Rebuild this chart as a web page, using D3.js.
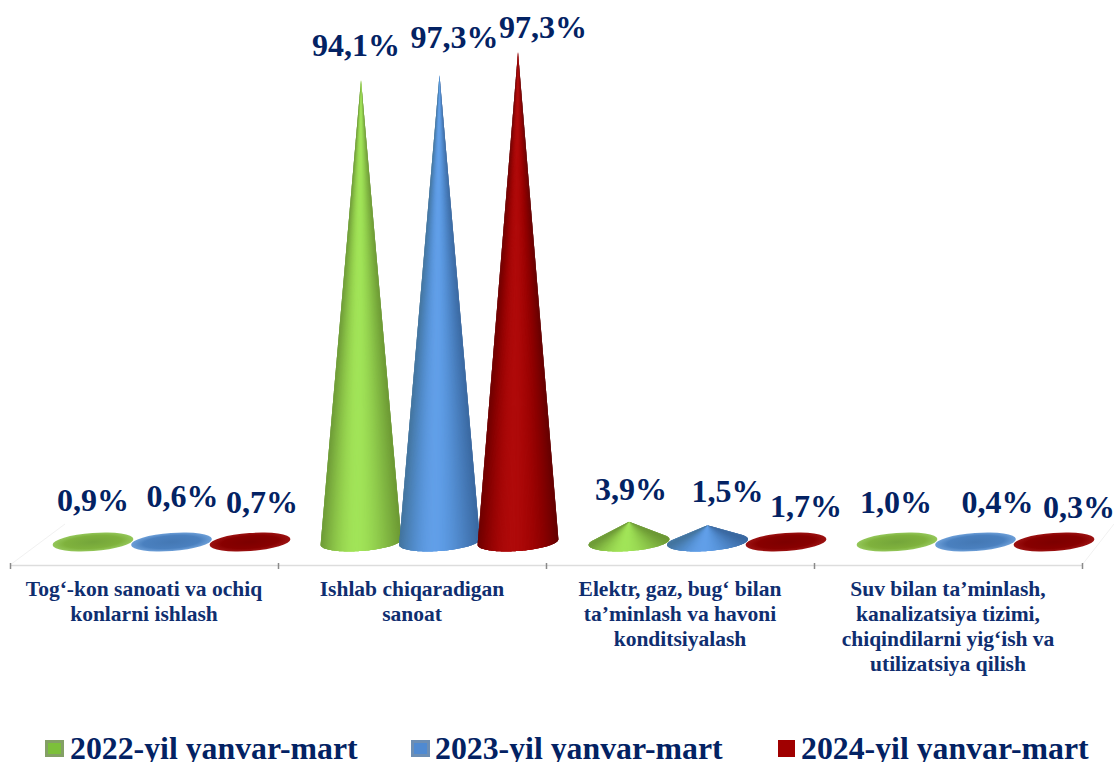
<!DOCTYPE html>
<html>
<head>
<meta charset="utf-8">
<style>
  body { margin: 0; background: #fff; }
  text { font-family: "Liberation Serif", serif; font-weight: bold; }
</style>
<script src="https://cdn.jsdelivr.net/npm/d3@7"></script>
</head>
<body>
<script>
const categories = ['mining', 'manufacturing', 'energy', 'water'];
const categoryLines = [
  ['Tog‘-kon sanoati va ochiq', 'konlarni ishlash'],
  ['Ishlab chiqaradigan', 'sanoat'],
  ['Elektr, gaz, bug‘ bilan', 'ta’minlash va havoni', 'konditsiyalash'],
  ['Suv bilan ta’minlash,', 'kanalizatsiya tizimi,', 'chiqindilarni yig‘ish va', 'utilizatsiya qilish']
];
const seriesNames = ['2022-yil yanvar-mart', '2023-yil yanvar-mart', '2024-yil yanvar-mart'];

// heights as drawn in the picture, they don't always agree with the printed labels
const drawn2022 = [0.9, 94.1, 4.1, 1.0];
const drawn2023 = [0.6, 95.1, 3.4, 0.4];
const drawn2024 = [0.7, 99.8, 1.7, 0.3];

// printed labels
const labels2022 = ['0,9%', '94,1%', '3,9%', '1,0%'];
const labels2023 = ['0,6%', '97,3%', '1,5%', '0,4%'];
const labels2024 = ['0,7%', '97,3%', '1,7%', '0,3%'];

(function() {
  'use strict';

  const w = 1114;
  const h = 762;
  const axisY = 565;
  const baseY = 542;
  const navy = '#032263';

  const drawn = [drawn2022, drawn2023, drawn2024];
  const labels = [labels2022, labels2023, labels2024];

  // the data labels were placed by hand in the original
  const labelDx = [[0, -5, 2, -1], [11, 15, 20, 22], [12, 25, 20, 25]];
  const labelDy = [[-31, -486, -42, -29], [-35, -494, -40, -29], [-29, -504, -25, -24]];

  const palettes = [
    ['#6f9c38', '#93cf4c', '#a6ea5c', '#9bdc54', '#84bb44', '#6c9834'],
    ['#44759f', '#5490d4', '#66a4ee', '#5a98e0', '#4a80c0', '#3a68a0'],
    ['#700000', '#a00404', '#b40c0c', '#a80606', '#900000', '#640000']
  ];
  const flatStops = [
    ['#74a53a', '#7fb23d', '#94c75a'],
    ['#4478b4', '#4a80bf', '#6d9fd8'],
    ['#7c0000', '#880000', '#9c1212']
  ];
  const swatchOuter = ['#84a066', '#6c8eb4', '#a00000'];
  const swatchInner = ['#7cc03a', '#4f8ad2', '#a00000'];

  const svg = d3.select('body')
    .append('svg')
    .attr('width', w)
    .attr('height', h)
    .style('display', 'block');

  const defs = svg.append('defs');
  flatStops.forEach((stops, s) => {
    const grad = defs.append('radialGradient').attr('id', 'flat' + s);
    [0, 70, 100].forEach((offset, i) => {
      grad.append('stop')
        .attr('offset', offset + '%')
        .attr('stop-color', stops[i]);
    });
  });

  // scales
  const xBand = d3.scaleBand().domain(categories).range([10, 1082]);
  const xSeries = d3.scalePoint().domain(seriesNames).range([83, 240]);
  const yScale = d3.scaleLinear().domain([0, 100]).range([baseY, 51]);

  // faint floor edges
  svg.selectAll('.floor')
    .data([[10, 65], [1082, 1114]])
    .enter()
    .append('line')
    .attr('class', 'floor')
    .attr('x1', (d) => d[0])
    .attr('x2', (d) => d[1])
    .attr('y1', axisY)
    .attr('y2', 524)
    .attr('stroke', '#f1f1f1');

  // x axis, ticks sit between the categories
  const tickScale = d3.scaleLinear().domain([0, categories.length]).range(xBand.range());
  const axis = svg.append('g')
    .attr('transform', 'translate(0,' + axisY + ')')
    .call(d3.axisBottom(tickScale)
      .tickValues(d3.range(categories.length + 1))
      .tickSize(4)
      .tickSizeOuter(0)
      .tickFormat(''));
  axis.select('.domain').attr('stroke', '#dddddd').attr('stroke-width', 1.5);
  axis.selectAll('.tick line').attr('y1', -2).attr('stroke', '#8a8a8a').attr('stroke-width', 1.5);

  // a cone is a fan of overlapping wedges from the apex to the visible part of the tilted base
  const tilt = 4.2 * Math.PI / 180;
  const tiltDeg = -4.2;
  const rx = 40.5;
  const ry = 9;

  function isFlat(height) {
    const ax = height * Math.sin(tilt);
    const ay = -height * Math.cos(tilt);
    return Math.hypot(ax / rx, ay / ry) <= 1;
  }

  function conePieces(height, palette) {
    const ux = height * Math.sin(tilt) / rx;
    const uy = -height * Math.cos(tilt) / ry;
    const phi = Math.atan2(uy, ux);
    const spread = Math.acos(1 / Math.hypot(ux, uy));
    const from = phi + spread;
    const to = phi + 2 * Math.PI - spread;
    const color = d3.interpolateRgbBasis(palette);
    const n = 90;
    const point = (t) => {
      const x = rx * Math.cos(t);
      const y = ry * Math.sin(t);
      return [x * Math.cos(tilt) + y * Math.sin(tilt), -x * Math.sin(tilt) + y * Math.cos(tilt)];
    };
    return d3.range(n).map((i) => {
      const last = Math.min(i + 3, n);
      const arc = d3.range(i, last + 1).map((k) => point(from + (to - from) * k / n));
      const mid = from + (to - from) * (i + 0.5) / n;
      return {
        points: [[0, -height]].concat(arc),
        color: color((Math.cos(mid) + 1) / 2)
      };
    });
  }

  const groups = svg.selectAll('.category')
    .data(categories)
    .enter()
    .append('g')
    .attr('class', 'category')
    .attr('transform', (d) => 'translate(' + xBand(d) + ',0)');

  const lineGen = d3.line();

  groups.each(function(cat, c) {
    const group = d3.select(this);
    seriesNames.forEach((name, s) => {
      const height = baseY - yScale(drawn[s][c]);
      const cone = group.append('g')
        .attr('transform', 'translate(' + xSeries(name) + ',' + baseY + ')');
      if (isFlat(height)) {
        // so low that only the base shows
        cone.append('ellipse')
          .attr('rx', rx)
          .attr('ry', ry)
          .attr('transform', 'rotate(' + tiltDeg + ')')
          .attr('fill', 'url(#flat' + s + ')');
      } else {
        cone.selectAll('path')
          .data(conePieces(height, palettes[s]))
          .enter()
          .append('path')
          .attr('d', (d) => lineGen(d.points) + 'Z')
          .attr('fill', (d) => d.color);
      }
    });
  });

  // data labels go on top of every cone
  groups.each(function(cat, c) {
    const group = d3.select(this);
    seriesNames.forEach((name, s) => {
      group.append('text')
        .attr('x', xSeries(name) + labelDx[s][c])
        .attr('y', baseY + labelDy[s][c])
        .attr('text-anchor', 'middle')
        .attr('font-size', 32)
        .attr('fill', navy)
        .text(labels[s][c]);
    });
  });

  // category labels
  groups.append('text')
    .attr('text-anchor', 'middle')
    .attr('font-size', 21.5)
    .attr('fill', '#0f2e70')
    .selectAll('tspan')
    .data((d, i) => categoryLines[i])
    .enter()
    .append('tspan')
    .attr('x', xBand.bandwidth() / 2)
    .attr('y', (d, i) => 596 + i * 25)
    .text((d) => d);

  // legend
  const legendSwatchX = [45, 411, 778];
  const legendTextX = [70, 435, 801];

  const legend = svg.selectAll('.legend')
    .data(seriesNames)
    .enter()
    .append('g')
    .attr('class', 'legend');
  legend.append('rect')
    .attr('x', (d, i) => legendSwatchX[i])
    .attr('y', 740)
    .attr('width', (d, i) => i === 2 ? 17 : 19)
    .attr('height', 17)
    .attr('fill', (d, i) => swatchOuter[i]);
  legend.append('rect')
    .attr('x', (d, i) => legendSwatchX[i] + 3)
    .attr('y', 743)
    .attr('width', (d, i) => i === 2 ? 11 : 13)
    .attr('height', 11)
    .attr('fill', (d, i) => swatchInner[i]);
  legend.append('text')
    .attr('x', (d, i) => legendTextX[i])
    .attr('y', 759)
    .attr('font-size', 31.8)
    .attr('fill', navy)
    .text((d) => d);
}());
</script>
</body>
</html>
